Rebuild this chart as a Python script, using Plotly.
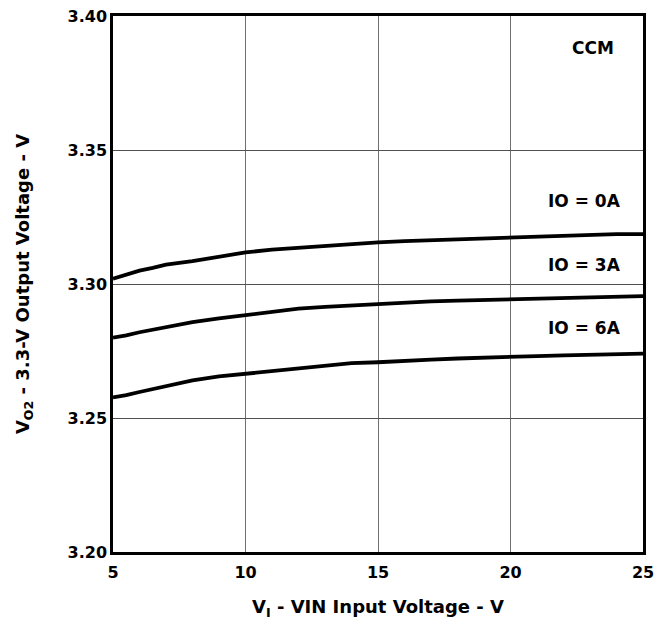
import plotly.graph_objects as go

vin = [5, 5.5, 6, 6.5, 7, 8, 9, 10, 11, 12, 13, 14, 15, 16, 17, 18, 19, 20, 21, 22, 23, 24, 25]
io_0a = [3.3020, 3.3035, 3.3050, 3.3060, 3.3072, 3.3085, 3.3102, 3.3118, 3.3128, 3.3135, 3.3143, 3.3150,
         3.3155, 3.3160, 3.3163, 3.3167, 3.3170, 3.3173, 3.3178, 3.3180, 3.3183, 3.3186, 3.3186]
io_3a = [3.2800, 3.2808, 3.2820, 3.2830, 3.2840, 3.2858, 3.2872, 3.2885, 3.2897, 3.2908, 3.2915, 3.2920,
         3.2925, 3.2932, 3.2935, 3.2938, 3.2940, 3.2942, 3.2944, 3.2947, 3.2950, 3.2952, 3.2955]
io_6a = [3.2577, 3.2585, 3.2597, 3.2608, 3.2620, 3.2640, 3.2655, 3.2665, 3.2677, 3.2688, 3.2697, 3.2705,
         3.2708, 3.2714, 3.2718, 3.2722, 3.2726, 3.2728, 3.2731, 3.2734, 3.2737, 3.2740, 3.2740]

labels = ["IO = 0A", "IO = 3A", "IO = 6A"]
label_y = [3.331, 3.307, 3.2836]
x_ticks = [5, 10, 15, 20, 25]
y_ticks = [3.20, 3.25, 3.30, 3.35, 3.40]

font = "DejaVu Sans"

fig = go.Figure()
for ys in (io_0a, io_3a, io_6a):
    fig.add_trace(go.Scatter(x=vin, y=ys, mode="lines", line=dict(color="black", width=3.8),
                             showlegend=False, hoverinfo="skip"))

for t, yv in zip(labels, label_y):
    fig.add_annotation(x=22.8, y=yv, text="<b>%s</b>" % t, showarrow=False,
                       font=dict(family=font, size=17, color="black"))
fig.add_annotation(x=23.1, y=3.388, text="<b>CCM</b>", showarrow=False,
                   font=dict(family=font, size=17, color="black"))

fig.update_layout(
    width=663, height=629,
    margin=dict(l=113, r=20, t=7, b=77),
    paper_bgcolor="white", plot_bgcolor="white",
    font=dict(family=font, size=16, color="black"),
)
fig.update_xaxes(
    range=[5, 25], tickvals=x_ticks, ticktext=["<b>%d</b>" % v for v in x_ticks],
    tickfont=dict(family=font, size=16, color="black"),
    showgrid=True, gridcolor="#707070", gridwidth=1,
    showline=True, linecolor="black", linewidth=2.5, mirror=True,
    ticks="outside", ticklen=4, tickcolor="white", zeroline=False,
    title=dict(text="<b>V<sub>I</sub> - VIN Input Voltage - V</b>",
               font=dict(family=font, size=18, color="black"), standoff=20),
)
fig.update_yaxes(
    range=[3.20, 3.40], tickvals=y_ticks, ticktext=["<b>%.2f</b>" % v for v in y_ticks],
    tickfont=dict(family=font, size=16, color="black"),
    showgrid=True, gridcolor="#505050", gridwidth=1,
    showline=True, linecolor="black", linewidth=2.5, mirror=True,
    ticks="", zeroline=False,
    title=dict(text="<b>V<sub>O2</sub> - 3.3-V Output Voltage - V</b>",
               font=dict(family=font, size=18, color="black"), standoff=34),
)

fig.write_html("out.html", config={"displayModeBar": False},
               post_script="document.body.style.margin='0';document.body.style.padding='0';")
